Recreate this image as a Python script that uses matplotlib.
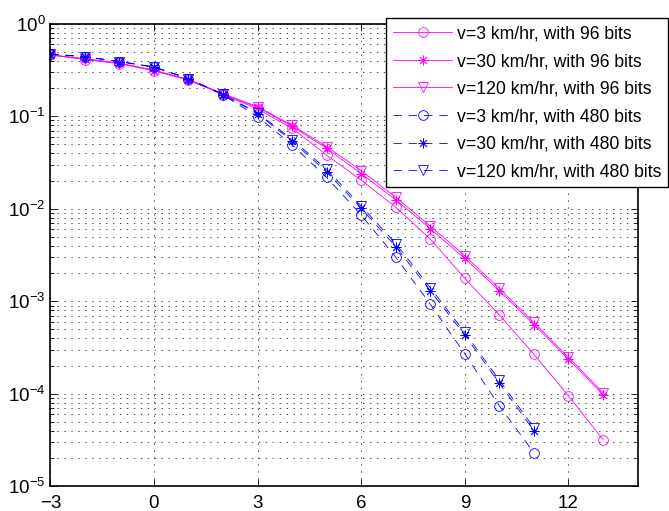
import numpy as np
import matplotlib
matplotlib.use("Agg")
import matplotlib.pyplot as plt

plt.rcParams['font.family'] = ['Liberation Sans', 'DejaVu Sans']
plt.rcParams['lines.scale_dashes'] = False

# SNR axis
x96 = list(range(-3, 14))
x480 = list(range(-3, 12))

# 96-bit packets
c96 = [0.46, 0.41, 0.37, 0.31, 0.245, 0.172, 0.12, 0.074, 0.038, 0.0204,
       0.0104, 0.0047, 0.00177, 0.00071, 0.000267, 9.5e-5, 3.2e-5]
s96 = [0.46, 0.415, 0.372, 0.312, 0.248, 0.174, 0.125, 0.078, 0.045, 0.024,
       0.0125, 0.0061, 0.0029, 0.0013, 0.00056, 0.000236, 9.8e-5]
t96 = [0.46, 0.42, 0.375, 0.315, 0.25, 0.175, 0.127, 0.080, 0.047, 0.0258,
       0.0133, 0.0065, 0.0031, 0.00138, 0.00059, 0.000248, 1.03e-4]

# 480-bit packets
c480 = [0.47, 0.44, 0.39, 0.34, 0.255, 0.17, 0.099, 0.049, 0.0218, 0.00855,
        0.0030, 0.00093, 0.00027, 7.4e-5, 2.3e-5]
s480 = [0.47, 0.44, 0.39, 0.34, 0.255, 0.171, 0.106, 0.054, 0.025, 0.0101,
        0.0039, 0.0013, 0.00043, 1.3e-4, 4.0e-5]
t480 = [0.47, 0.44, 0.39, 0.34, 0.255, 0.172, 0.109, 0.056, 0.0267, 0.0107,
        0.0042, 0.0014, 0.00046, 1.4e-4, 4.3e-5]

labels = ["v=3 km/hr, with 96 bits", "v=30 km/hr, with 96 bits",
          "v=120 km/hr, with 96 bits", "v=3 km/hr, with 480 bits",
          "v=30 km/hr, with 480 bits", "v=120 km/hr, with 480 bits"]

mag = '#FF00FF'
blu = '#0000FF'
ms = 7
lw = 0.6
star = (8, 2, 0)  # MATLAB-like asterisk
dash = (6, 5)

fig = plt.figure(figsize=(6.69, 5.11), dpi=100)
ax = fig.add_axes([0.0752, 0.0483, 0.953 - 0.0752, 0.9536 - 0.0483])

ax.semilogy(x96, c96, '-', color=mag, lw=lw, marker='o', ms=ms, mfc='none', mew=lw, label=labels[0])
ax.semilogy(x96, s96, '-', color=mag, lw=lw, marker=star, ms=ms, mfc='none', mew=lw, label=labels[1])
ax.semilogy(x96, t96, '-', color=mag, lw=lw, marker='v', ms=ms, mfc='none', mew=lw, label=labels[2])
ax.semilogy(x480, c480, '--', color=blu, lw=lw, dashes=dash, marker='o', ms=ms, mfc='none', mew=lw, label=labels[3])
ax.semilogy(x480, s480, '--', color=blu, lw=lw, dashes=dash, marker=star, ms=ms, mfc='none', mew=lw, label=labels[4])
ax.semilogy(x480, t480, '--', color=blu, lw=lw, dashes=dash, marker='v', ms=ms, mfc='none', mew=lw, label=labels[5])

ax.set_xlim(-3, 14)
ax.set_ylim(1e-5, 1)
ax.set_xticks([-3, 0, 3, 6, 9, 12])
ax.tick_params(which='both', direction='in', top=True, right=True, labelsize=13.5)
ax.tick_params(which='major', length=5, width=0.6)
ax.tick_params(which='minor', length=3, width=0.6)
ax.tick_params(axis='x', pad=6)
ax.grid(True, which='major', color='k', lw=0.5, linestyle=(0, (1, 4)))
ax.grid(True, which='minor', axis='y', color='k', lw=0.5, linestyle=(0, (1, 4)))
for sp in ax.spines.values():
    sp.set_linewidth(1.2)

leg = ax.legend(loc='upper right', bbox_to_anchor=(0.999, 0.964),
                bbox_transform=fig.transFigure, borderaxespad=0,
                fontsize=12.7, handlelength=3.3, labelspacing=0.6,
                handletextpad=0.3, borderpad=0.4, fancybox=False,
                framealpha=1, edgecolor='k')
leg.get_frame().set_linewidth(1.0)

fig.savefig("out.png", dpi=100)
